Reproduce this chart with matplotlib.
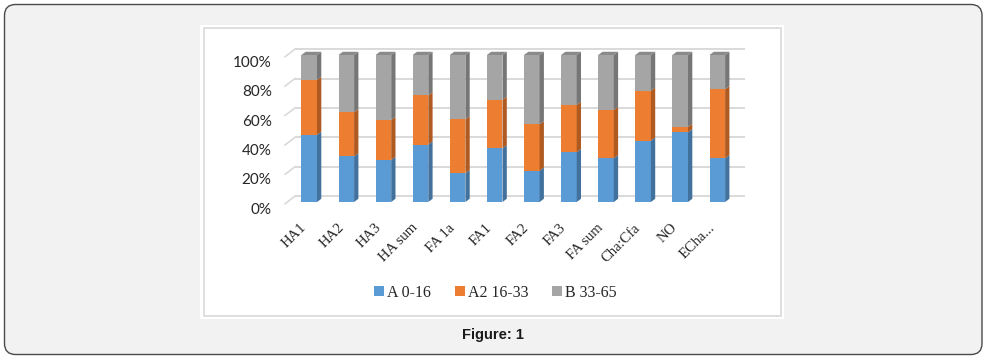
import matplotlib
matplotlib.use("Agg")
import matplotlib.pyplot as plt
import matplotlib.transforms as mtransforms
from matplotlib.patches import FancyBboxPatch, Patch, Polygon, Rectangle

categories = ["HA1", "HA2", "HA3", "HA sum", "FA 1a", "FA1", "FA2", "FA3",
              "FA sum", "Cha:Cfa", "NO", "ECha..."]
a_0_16 = [45.6, 31.0, 28.6, 39.0, 19.5, 36.5, 21.3, 33.8, 29.7, 41.7, 47.4, 29.7]
a2_16_33 = [37.4, 30.0, 27.2, 33.5, 36.7, 33.0, 31.5, 32.2, 32.9, 34.0, 3.6, 47.0]
b_33_65 = [17.0, 39.0, 44.2, 27.5, 43.8, 30.5, 47.2, 34.0, 37.4, 24.3, 49.0, 23.3]
series_names = ["A 0-16", "A2 16-33", "B 33-65"]
y_ticks = [0, 20, 40, 60, 80, 100]

front = ["#5b9bd5", "#ed7d31", "#a5a5a5"]
side = ["#41719c", "#ae5a21", "#767676"]
top_col = "#8a8a8a"
grid_col = "#d9d9d9"

W, H = 988, 360
fig = plt.figure(figsize=(W / 100, H / 100), dpi=100)
fig.patch.set_facecolor("white")

# outer rounded frame and white chart panel (pixel coords)
fig.patches.append(FancyBboxPatch((4.5, 5.5), 977.5, 350, boxstyle="round,pad=0,rounding_size=11",
                                  transform=None, facecolor="#f2f2f2", edgecolor="#4a4a4a",
                                  linewidth=1.0, zorder=-3))
fig.patches.append(Rectangle((200, H - 319), 584, 294, transform=None,
                             facecolor="white", edgecolor="none", zorder=-2))
fig.patches.append(Rectangle((203.5, H - 316), 577, 288, transform=None,
                             facecolor="none", edgecolor=grid_col, linewidth=1.2, zorder=-1))

ax = fig.add_axes([280 / W, (H - 215) / H, 470 / W, 175 / H])
ax.patch.set_alpha(0)
ax.set_xlim(-0.787, 11.881)
ax.set_ylim(-8.84, 110.2)
for s in ax.spines.values():
    s.set_visible(False)

bw = 0.42
dx, dy = 0.116, 2.2
# back wall gridlines, with a short floor diagonal on the left
for v in y_ticks:
    ax.plot([-0.383, 11.75], [v + 4.0, v + 4.0], color=grid_col, lw=1.4, zorder=0,
            solid_capstyle="butt")
    ax.plot([-0.652, -0.383], [v - 1.2, v + 4.0], color=grid_col, lw=1.2, zorder=0)

xs = list(range(len(categories)))
for i in xs:
    tot = a_0_16[i] + a2_16_33[i] + b_33_65[i]
    vals = [a_0_16[i] / tot * 100, a2_16_33[i] / tot * 100, b_33_65[i] / tot * 100]
    bottom = 0
    for k, v in enumerate(vals):
        ax.bar(i, v, bottom=bottom, width=bw, color=front[k], zorder=2, linewidth=0)
        xr = i + bw / 2
        ax.add_patch(Polygon([(xr, bottom), (xr + dx, bottom + dy),
                              (xr + dx, bottom + v + dy), (xr, bottom + v)],
                             closed=True, facecolor=side[k], edgecolor="none", zorder=2))
        bottom += v
    xl = i - bw / 2
    ax.add_patch(Polygon([(xl, bottom), (xl + dx, bottom + dy),
                          (xr + dx, bottom + dy), (xr, bottom)],
                         closed=True, facecolor=top_col, edgecolor="none", zorder=2))

ax.set_xticks(xs)
ax.set_xticklabels(categories, rotation=45, ha="right", family="Liberation Serif",
                   fontsize=10.5, color="#262626")
ax.set_yticks(y_ticks)
ax.set_yticklabels([f"{v}%" for v in y_ticks], family="Lato", fontsize=11, color="#262626")
ax.tick_params(axis="both", length=0)
ax.tick_params(axis="x", pad=4.5)
ax.tick_params(axis="y", pad=0)
shift = mtransforms.ScaledTranslation(-6 / 72, -4.5 / 72, fig.dpi_scale_trans)
for lab in ax.get_yticklabels():
    lab.set_transform(lab.get_transform() + shift)

handles = [Patch(facecolor=front[k], edgecolor="none", label=series_names[k]) for k in range(3)]
fig.legend(handles=handles, loc="center", bbox_to_anchor=(495.5 / W, (H - 292.6) / H),
           ncol=3, frameon=False, handlelength=0.6, handleheight=0.6, handletextpad=0.2,
           columnspacing=1.5, prop={"family": "Liberation Serif", "size": 11.5},
           labelcolor="#262626")

fig.text(492.5 / W, (H - 335) / H, "Figure: 1", ha="center", va="center",
         family="Liberation Sans", fontweight="bold", fontsize=10.5, color="#1a1a1a")

fig.savefig("out.png", dpi=100)
